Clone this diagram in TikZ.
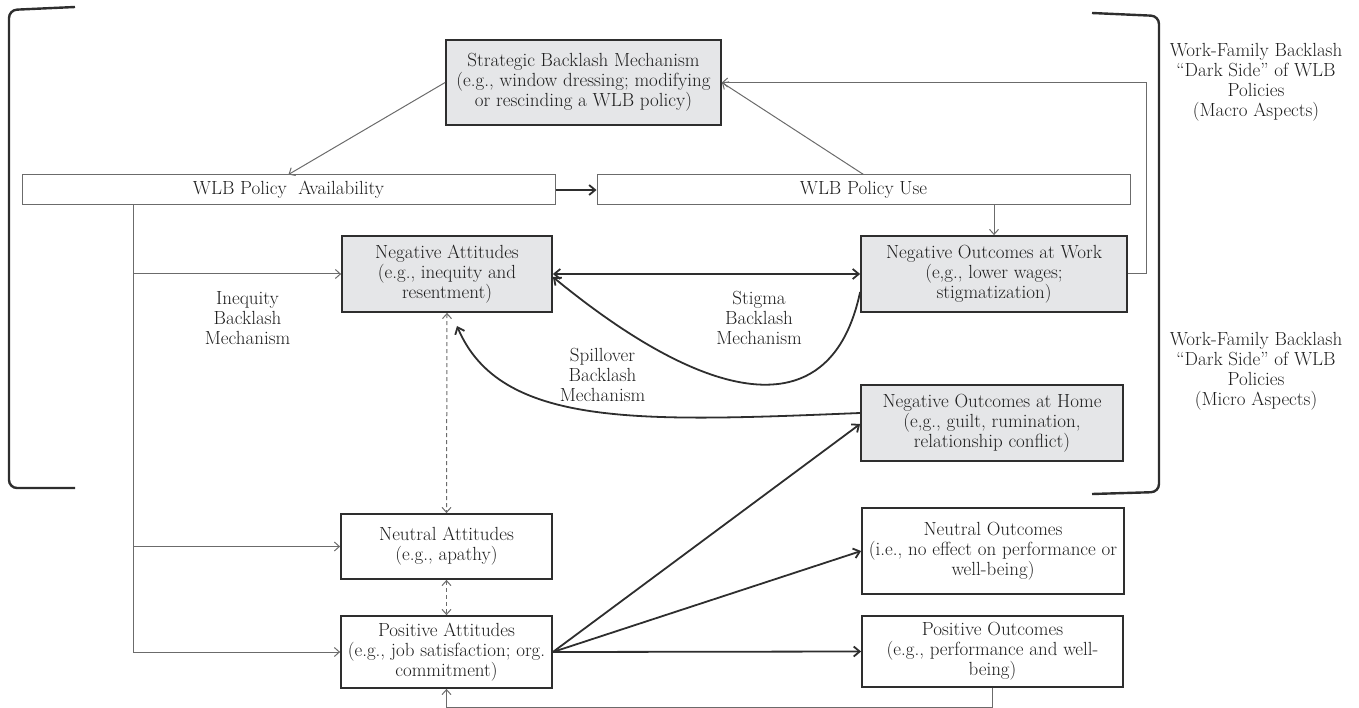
\documentclass[tikz,border=0pt]{standalone}
\usetikzlibrary{arrows.meta,calc}
\definecolor{boxgray}{HTML}{E5E6E8}
\definecolor{ink}{HTML}{2E2E2E}
\definecolor{txt}{HTML}{1E1E1E}
\definecolor{thinline}{HTML}{6B6B6B}
\begin{document}
\begin{tikzpicture}[x=1pt,y=-1pt,
  font=\fontsize{19}{20}\selectfont, text=txt,
  gbox/.style={draw=ink, line width=1.8pt, fill=boxgray, align=center, inner sep=0pt},
  wbox/.style={draw=ink, line width=1.8pt, fill=white, align=center, inner sep=0pt},
  pbox/.style={draw=thinline, line width=1pt, fill=white, inner sep=0pt},
  thinarr/.style={draw=thinline, line width=1pt, -{Straight Barb[length=5pt,width=9pt]}},
  thickarr/.style={draw=ink, line width=1.8pt, -{Straight Barb[length=6pt,width=10pt]}},
  dasharr/.style={draw=thinline, line width=1pt, dash pattern=on 4pt off 3pt,
    {Straight Barb[length=5pt,width=9pt]}-{Straight Barb[length=5pt,width=9pt]}},
  brk/.style={draw=ink, line width=2.4pt, rounded corners=8pt},
  lbl/.style={align=center, inner sep=0pt}]
\useasboundingbox (0,0) rectangle (1359,708);

% boxes
\node[gbox, minimum width=275pt, minimum height=85pt] (strat) at (583.5,82.5)
  {Strategic Backlash Mechanism\\(e.g., window dressing; modifying\\or rescinding a WLB policy)};
\node[pbox, minimum width=533pt, minimum height=30pt] (avail) at (288.5,190) {WLB Policy \ Availability};
\node[pbox, minimum width=533pt, minimum height=30pt] (use) at (863.5,190) {WLB Policy Use};
\node[gbox, minimum width=210pt, minimum height=76pt] (negatt) at (447,274)
  {Negative Attitudes\\(e.g., inequity and\\resentment)};
\node[gbox, minimum width=266pt, minimum height=76pt] (negwork) at (994,274)
  {Negative Outcomes at Work\\(e,g., lower wages;\\stigmatization)};
\node[gbox, minimum width=262pt, minimum height=76pt] (neghome) at (992,423)
  {Negative Outcomes at Home\\(e,g., guilt, rumination,\\relationship conflict)};
\node[wbox, minimum width=211pt, minimum height=65pt] (neuatt) at (446.5,546.5)
  {Neutral Attitudes\\(e.g., apathy)};
\node[wbox, minimum width=211pt, minimum height=72pt] (posatt) at (446.5,652)
  {Positive Attitudes\\(e.g., job satisfaction; org.\\commitment)};
\node[wbox, minimum width=262pt, minimum height=86pt] (neuout) at (993,551)
  {Neutral Outcomes\\(i.e., no effect on performance or\\well-being)};
\node[wbox, minimum width=261pt, minimum height=71pt] (posout) at (992.5,651.5)
  {Positive Outcomes\\(e.g., performance and well-\\being)};

% labels
\node[lbl] (lineq) at (247.5,318) {Inequity\\Backlash\\Mechanism};
\node[lbl] (lstig) at (759,318) {Stigma\\Backlash\\Mechanism};
\node[lbl] (lspill) at (602.5,375) {Spillover\\Backlash\\Mechanism};
\node[lbl] (lmacro) at (1256,82.5) {Work-Family Backlash\\``Dark Side'' of WLB\\Policies\\(Macro Aspects)};
\node[lbl] (lmicro) at (1256,371) {Work-Family Backlash\\``Dark Side'' of WLB\\Policies\\(Micro Aspects)};

% brackets
\coordinate (bl1) at (75,7);
\coordinate (bl2) at (9,10);
\coordinate (bl3) at (9,488);
\coordinate (bl4) at (75,488);
\draw[brk] (bl1) -- (bl2) -- (bl3) -- (bl4);
\coordinate (br1) at (1092,13);
\coordinate (br2) at (1159,16);
\coordinate (br3) at (1159,492);
\coordinate (br4) at (1092,494);
\draw[brk] (br1) -- (br2) -- (br3) -- (br4);

% connectors
\draw[thinarr] (strat.west) -- (avail.north);
\draw[thinarr] (use.north) -- (strat.east);
\draw[thinarr] (negwork.east) -- ++(19,0) |- (strat.east);
\draw[thinarr] (use.south -| negwork.north) -- (negwork.north);
\draw[thickarr] (avail.east) -- (use.west);

\coordinate (tk) at (133,205);
\draw[thinarr] (tk) |- (negatt.west);
\draw[thinarr] (tk) |- (neuatt.west);
\draw[thinarr] (tk) |- (posatt.west);

\draw[thickarr, {Straight Barb[length=6pt,width=10pt]}-{Straight Barb[length=6pt,width=10pt]}] (negatt.east) -- (negwork.west);
\coordinate (stigS) at ($(negwork.west)+(0,18)$);
\coordinate (stigE) at ($(negatt.east)+(0,3)$);
\draw[thickarr] (stigS) .. controls (832,425) and (715,410) .. (stigE);
\coordinate (spillS) at ($(neghome.west)+(0,-10)$);
\coordinate (spillE) at (457,326);
\draw[thickarr] (spillS) .. controls (640,422) and (500,428) .. (spillE);

\draw[dasharr] (negatt.south) -- (neuatt.north);
\draw[dasharr] (neuatt.south) -- (posatt.north);

\coordinate (nhIn) at ($(neghome.west)+(0,1)$);
\draw[thickarr] (posatt.east) -- (nhIn);
\draw[thickarr] (posatt.east) -- (neuout.west);
\draw[thickarr] (posatt.east) -- (posout.west);

\draw[thinarr] (posout.south) -- ++(0,19.5) -| (posatt.south);
\end{tikzpicture}
\end{document}
